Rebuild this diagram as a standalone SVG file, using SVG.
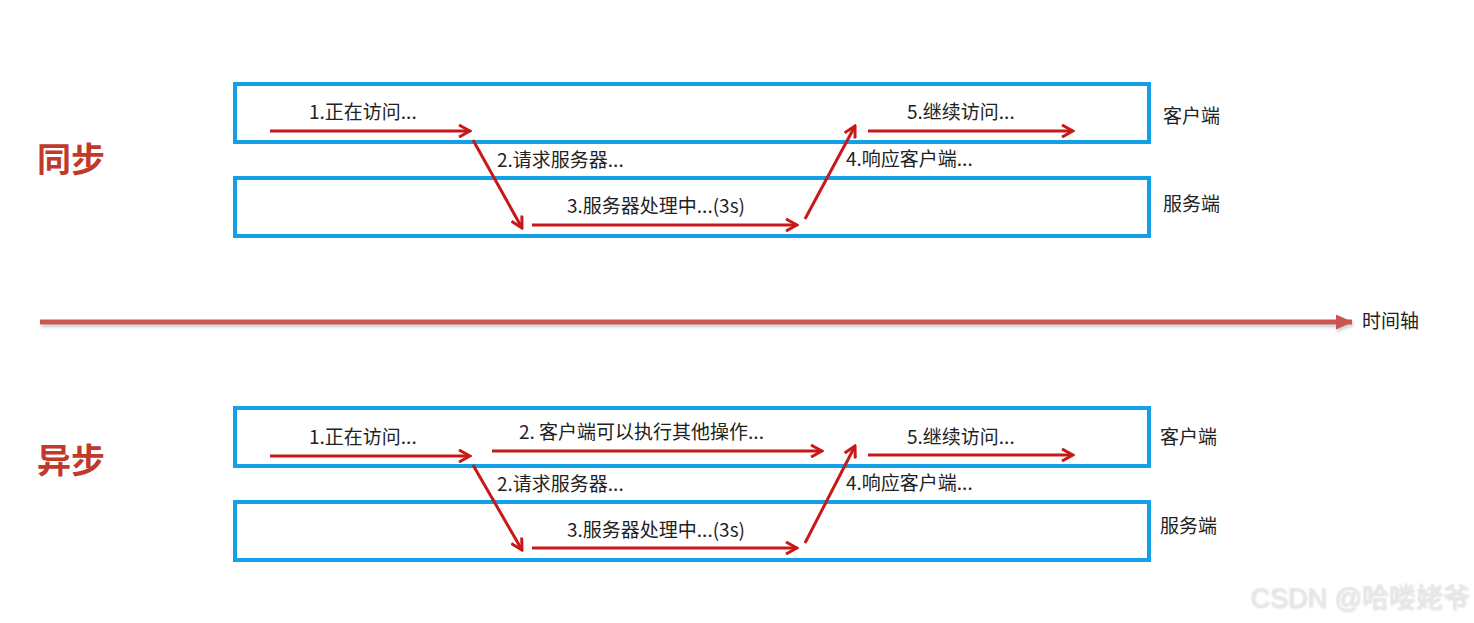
<svg xmlns="http://www.w3.org/2000/svg" width="1474" height="623" viewBox="0 0 1474 623">
<style>
.box{fill:none;stroke:#14A0E6;stroke-width:4}
.lbl{font-family:"Noto Sans CJK SC","Liberation Sans",sans-serif;font-size:19px;fill:#222}
.side{font-family:"Noto Sans CJK SC","Liberation Sans",sans-serif;font-size:19px;fill:#222}
.title{font-family:"Noto Sans CJK SC",sans-serif;font-size:34px;font-weight:bold;fill:#C0392B}
.arr{fill:none;stroke:#C81818;stroke-width:3;marker-end:url(#head)}
.wm{font-family:"Liberation Sans","Noto Sans CJK SC",sans-serif;font-size:27px;fill:#e8e8e8}
</style>
<defs>
<marker id="head" viewBox="0 0 14 14" refX="12" refY="7" markerWidth="14" markerHeight="14" markerUnits="userSpaceOnUse" orient="auto">
<path d="M1,1 L12,7 L1,13" fill="none" stroke="#C81818" stroke-width="3"/>
</marker>
<marker id="thead" viewBox="0 0 17 15" refX="16" refY="7.5" markerWidth="17" markerHeight="15" markerUnits="userSpaceOnUse" orient="auto">
<path d="M0,0 L17,7.5 L0,15 Z" fill="#CD5451"/>
</marker>
<filter id="sh" filterUnits="userSpaceOnUse" x="20" y="300" width="1360" height="50">
<feDropShadow dx="1" dy="3" stdDeviation="1.5" flood-color="#9aa" flood-opacity="0.5"/>
</filter>
<filter id="wsh" x="-5%" y="-20%" width="110%" height="140%">
<feDropShadow dx="1" dy="1" stdDeviation="0.8" flood-color="#aaa" flood-opacity="0.5"/>
</filter>
</defs>

<g id="titles">
<text class="title" x="37" y="172">同步</text>
<text class="title" x="37" y="473">异步</text>
</g>

<g id="sync-client"><rect class="box" x="235" y="84" width="914" height="58"/></g>
<g id="sync-server"><rect class="box" x="235" y="178" width="914" height="58"/></g>
<g id="async-client"><rect class="box" x="235" y="408" width="914" height="58"/></g>
<g id="async-server"><rect class="box" x="235" y="502" width="914" height="58"/></g>

<g id="side-labels">
<text class="side" x="1163" y="123">客户端</text>
<text class="side" x="1163" y="211">服务端</text>
<text class="side" x="1160" y="444">客户端</text>
<text class="side" x="1160" y="533">服务端</text>
</g>

<g id="timeline">
<line x1="40" y1="322" x2="1352" y2="322" stroke="#CD5451" stroke-width="5" marker-end="url(#thead)" filter="url(#sh)"/>
<text class="side" x="1362" y="328">时间轴</text>
</g>

<g id="connectors">
<line class="arr" x1="270" y1="131" x2="470" y2="131"/>
<line class="arr" x1="473" y1="140" x2="522" y2="228"/>
<line class="arr" x1="532" y1="225" x2="797" y2="225"/>
<line class="arr" x1="805" y1="219" x2="855" y2="126"/>
<line class="arr" x1="868" y1="131" x2="1073" y2="131"/>

<line class="arr" x1="270" y1="456" x2="470" y2="456"/>
<line class="arr" x1="492" y1="451" x2="822" y2="451"/>
<line class="arr" x1="473" y1="465" x2="522" y2="550"/>
<line class="arr" x1="532" y1="548" x2="797" y2="548"/>
<line class="arr" x1="805" y1="543" x2="855" y2="446"/>
<line class="arr" x1="868" y1="455" x2="1073" y2="455"/>
</g>

<g id="labels">
<text class="lbl" x="309" y="119">1.正在访问...</text>
<text class="lbl" x="497" y="167">2.请求服务器...</text>
<text class="lbl" x="567" y="213">3.服务器处理中...(3s)</text>
<text class="lbl" x="846" y="166">4.响应客户端...</text>
<text class="lbl" x="907" y="119">5.继续访问...</text>

<text class="lbl" x="309" y="444">1.正在访问...</text>
<text class="lbl" x="519" y="439">2. 客户端可以执行其他操作...</text>
<text class="lbl" x="497" y="491">2.请求服务器...</text>
<text class="lbl" x="567" y="537">3.服务器处理中...(3s)</text>
<text class="lbl" x="846" y="490">4.响应客户端...</text>
<text class="lbl" x="907" y="444">5.继续访问...</text>
</g>

<g id="watermark">
<text class="wm" x="1250" y="607" filter="url(#wsh)">CSDN @哈喽姥爷</text>
</g>
</svg>
